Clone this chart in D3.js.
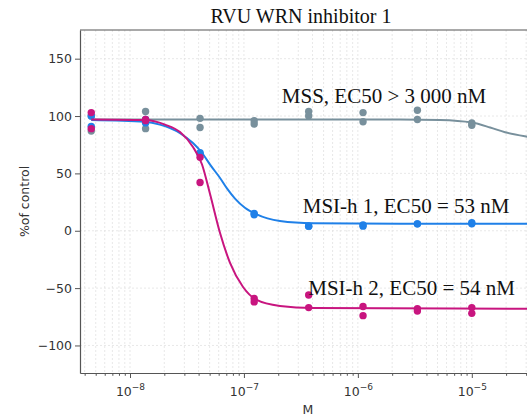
<!DOCTYPE html>
<html>
<head>
<meta charset="utf-8">
<script src="https://cdn.jsdelivr.net/npm/d3@7"></script>
<style>
  body { margin: 0; background: #fff; }
  svg { display: block; }
</style>
</head>
<body>
<div id="chart"></div>
<script>
const dim = {
    width: 527,
    height: 416
}
const plot = { left: 80, right: 536, top: 30, bottom: 373 }

// concentrations (M), 3-fold dilution series
const concM = [4.57e-9, 1.37e-8, 4.12e-8, 1.23e-7, 3.70e-7, 1.11e-6, 3.33e-6, 1.0e-5]

// replicate readings, % of control
const mssRep1 = [100, 104, 98, 96, 104, 103, 105, 94]
const mssRep2 = [87, 89, 90, 93, 100, 95, 97, 92]
const msi1Rep1 = [100, 97, 68, 15, 4, 4, 6, 7]
const msi1Rep2 = [91, 94, 67, 14, 4, 5, 6, 6]
const msi2Rep1 = [103, 97, 64, -59, -56, -66, -68, -67]
const msi2Rep2 = [89, 96, 42, -62, -67, -74, -70, -72]

// fitted curves
const mssFitX = [4.57e-9, 1e-7, 2.35e-6, 5.27e-6, 1.0e-5, 1.45e-5, 1.96e-5, 3.06e-5, 3.66e-5]
const mssFitY = [97, 97, 97, 96.5, 94.3, 90, 85.8, 82, 80.8]
const msi1FitX = [4.57e-9, 1.35e-8, 1.83e-8, 2.75e-8, 3.57e-8, 4.28e-8, 5.1e-8, 6.17e-8, 7.2e-8, 8.35e-8, 1.02e-7, 1.28e-7, 2.07e-7, 4.05e-7, 2.35e-6, 3.66e-5]
const msi1FitY = [96.5, 95, 92.5, 85, 76.5, 68, 57, 46, 36, 28, 20, 14.5, 8.5, 6.5, 6, 6]
const msi2FitX = [4.57e-9, 1.35e-8, 2.03e-8, 2.75e-8, 3.57e-8, 4.28e-8, 5.04e-8, 6.17e-8, 7.55e-8, 9.82e-8, 1.28e-7, 2.07e-7, 4.05e-7, 3.66e-5]
const msi2FitY = [97, 96.5, 92.5, 86, 73, 58, 32, -2, -28, -49, -60, -65.5, -67.3, -68]

const seriesNames = ['MSS', 'MSI-h 1', 'MSI-h 2']
const seriesLabels = ['MSS, EC50 > 3 000 nM', 'MSI-h 1, EC50 = 53 nM', 'MSI-h 2, EC50 = 54 nM']
// label anchors in data coordinates [M, %]
const labelAt = [[2.15e-7, 111.6], [3.28e-7, 15.7], [3.67e-7, -56]]

const yTicks = [-100, -50, 0, 50, 100, 150]
const xTicks = [1e-8, 1e-7, 1e-6, 1e-5]
const xTickExp = ['−8', '−7', '−6', '−5']

const colors = ['#78909c', '#1f80e8', '#c8157f']

const series = [
    { name: seriesNames[0], reps: [mssRep1, mssRep2], fx: mssFitX, fy: mssFitY },
    { name: seriesNames[1], reps: [msi1Rep1, msi1Rep2], fx: msi1FitX, fy: msi1FitY },
    { name: seriesNames[2], reps: [msi2Rep1, msi2Rep2], fx: msi2FitX, fy: msi2FitY }
]

const svg = d3.select('#chart')
    .append('svg')
        .attr('width', dim.width)
        .attr('height', dim.height)

// scales
const xScale = d3.scaleLog()
    .domain([3.64e-9, 3.66e-5])
    .range([plot.left, plot.right])

const yScale = d3.scaleLinear()
    .domain([-124, 175])
    .range([plot.bottom, plot.top])

svg.append('defs').append('clipPath')
    .attr('id', 'clip')
    .append('rect')
        .attr('x', plot.left)
        .attr('y', plot.top)
        .attr('width', plot.right - plot.left)
        .attr('height', plot.bottom - plot.top)

// grid
const minorX = xScale.ticks().filter(d => !xTicks.some(t => Math.abs(t - d) / t < 1e-6))
const grid = svg.append('g').attr('class', 'grid')
grid.selectAll('line.vx')
    .data(xScale.ticks())
    .join('line')
        .attr('class', 'vx')
        .attr('x1', d => xScale(d))
        .attr('x2', d => xScale(d))
        .attr('y1', plot.top)
        .attr('y2', plot.bottom)
        .attr('stroke', '#e2e2e2')
        .attr('stroke-width', 0.8)
        .attr('stroke-dasharray', '2,2')
grid.selectAll('line.hy')
    .data(yTicks)
    .join('line')
        .attr('class', 'hy')
        .attr('x1', plot.left)
        .attr('x2', plot.right)
        .attr('y1', d => yScale(d))
        .attr('y2', d => yScale(d))
        .attr('stroke', '#e2e2e2')
        .attr('stroke-width', 0.8)
        .attr('stroke-dasharray', '2,2')

// curves and points
const line = d3.line()
    .x(d => xScale(d[0]))
    .y(d => yScale(d[1]))
    .curve(d3.curveMonotoneX)

const marks = svg.append('g').attr('clip-path', 'url(#clip)')
series.forEach((s, i) => {
    marks.append('path')
        .datum(s.fx.map((x, j) => [x, s.fy[j]]))
        .attr('d', line)
        .attr('fill', 'none')
        .attr('stroke', colors[i])
        .attr('stroke-width', 2)

    const pts = s.reps.flatMap(rep => rep.map((v, j) => [concM[j], v]))
    marks.selectAll(null)
        .data(pts)
        .join('circle')
            .attr('cx', d => xScale(d[0]))
            .attr('cy', d => yScale(d[1]))
            .attr('r', 3.7)
            .attr('fill', colors[i])
})

// axes
const xAxis = svg.append('g')
    .attr('transform', `translate(0,${plot.bottom})`)
    .call(d3.axisBottom(xScale).tickValues(xTicks).tickSize(5).tickSizeOuter(0).tickFormat(() => ''))
xAxis.selectAll('.tick')
    .append('text')
        .attr('y', 23)
        .attr('fill', '#333')
        .attr('text-anchor', 'middle')
        .style('font-family', 'DejaVu Sans')
        .style('font-size', '12.5px')
        .each(function(d, i) {
            const t = d3.select(this)
            t.append('tspan').text('10')
            t.append('tspan').attr('dy', -6).style('font-size', '9px').text(xTickExp[i])
        })
svg.append('g')
    .attr('transform', `translate(0,${plot.bottom})`)
    .call(d3.axisBottom(xScale).tickValues(minorX).tickSize(2.8).tickFormat(() => ''))
    .call(g => g.select('.domain').remove())

const yAxis = svg.append('g')
    .attr('transform', `translate(${plot.left},0)`)
    .call(d3.axisLeft(yScale).tickValues(yTicks).tickSize(5).tickSizeOuter(0))
yAxis.selectAll('text')
    .attr('fill', '#333')
    .style('font-family', 'DejaVu Sans')
    .style('font-size', '12.5px')

svg.selectAll('.domain').attr('stroke', '#555').attr('stroke-width', 1.2)
svg.selectAll('.tick line').attr('stroke', '#555')

// top spine
svg.append('line')
    .attr('x1', plot.left)
    .attr('x2', plot.right)
    .attr('y1', plot.top)
    .attr('y2', plot.top)
    .attr('stroke', '#555')
    .attr('stroke-width', 1.2)

// axis titles
svg.append('text')
    .attr('x', (plot.left + plot.right) / 2)
    .attr('y', 414)
    .attr('text-anchor', 'middle')
    .attr('fill', '#333')
    .style('font-family', 'DejaVu Sans')
    .style('font-size', '12.5px')
    .text('M')

svg.append('text')
    .attr('transform', `translate(29,${(plot.top + plot.bottom) / 2}) rotate(-90)`)
    .attr('text-anchor', 'middle')
    .attr('fill', '#333')
    .style('font-family', 'DejaVu Sans')
    .style('font-size', '12.5px')
    .text('%of control')

// title
svg.append('text')
    .attr('x', 301)
    .attr('y', 22.5)
    .attr('text-anchor', 'middle')
    .attr('fill', '#111')
    .style('font-family', 'Liberation Serif')
    .style('font-size', '20px')
    .text('RVU WRN inhibitor 1')

// EC50 annotations
svg.append('g')
    .selectAll('text')
    .data(seriesLabels)
    .join('text')
        .attr('x', (d, i) => xScale(labelAt[i][0]))
        .attr('y', (d, i) => yScale(labelAt[i][1]))
        .attr('fill', '#111')
        .style('font-family', 'Liberation Serif')
        .style('font-size', '21px')
        .text(d => d)
</script>
</body>
</html>
